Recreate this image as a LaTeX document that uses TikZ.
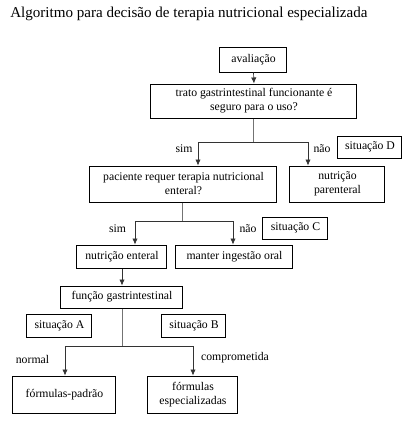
\documentclass[tikz,border=0pt]{standalone}
\usepackage{fontspec}
\setmainfont{Liberation Serif}
\usetikzlibrary{arrows.meta}
\definecolor{linec}{gray}{0.2}
\definecolor{stemc}{gray}{0.45}
\newdimen\pxu \pxu=0.75pt
\begin{document}
\begin{tikzpicture}[x=0.75pt,y=-0.75pt,
  box/.style={draw=black,line width=0.75pt,inner sep=0pt,align=center,font=\fontsize{8.8}{10.5}\selectfont},
  lbl/.style={inner sep=0pt,font=\fontsize{8.8}{10.5}\selectfont},
  arr/.style={draw=linec,line width=0.5pt,-{Latex[length=4.5pt,width=4pt]}},
  ln/.style={draw=linec,line width=0.5pt},
  stem/.style={draw=stemc,line width=0.75pt}]
\useasboundingbox (0,0) rectangle (409,430);
\node[anchor=west,inner sep=0pt,font=\fontsize{11.3}{13}\selectfont] (title) at (10,14) {Algoritmo para decisão de terapia nutricional especializada};

\node[box,minimum width=67\pxu,minimum height=25\pxu] (aval) at (253.5,59.5) {avaliação};
\node[box,minimum width=206\pxu,minimum height=34\pxu] (trato) at (254,101) {trato gastrintestinal funcionante é\\seguro para o uso?};
\node[box,minimum width=64\pxu,minimum height=22\pxu] (sitD) at (370,147) {situação D};
\node[box,minimum width=187\pxu,minimum height=36\pxu] (pac) at (183.5,184) {paciente requer terapia nutricional\\enteral?};
\node[box,minimum width=95\pxu,minimum height=36\pxu] (parent) at (337.5,184) {nutrição\\parenteral};
\node[box,minimum width=65\pxu,minimum height=22\pxu] (sitC) at (295.5,228) {situação C};
\node[box,minimum width=90\pxu,minimum height=23\pxu] (nutent) at (122,256.5) {nutrição enteral};
\node[box,minimum width=117\pxu,minimum height=23\pxu] (manter) at (234.5,256.5) {manter ingestão oral};
\node[box,minimum width=122\pxu,minimum height=22\pxu] (func) at (122,297) {função gastrintestinal};
\node[box,minimum width=65\pxu,minimum height=23\pxu] (sitA) at (59.5,325.5) {situação A};
\node[box,minimum width=64\pxu,minimum height=23\pxu] (sitB) at (194,325.5) {situação B};
\node[box,minimum width=103\pxu,minimum height=37\pxu] (padrao) at (64.5,394.5) {fórmulas-padrão};
\node[box,minimum width=90\pxu,minimum height=37\pxu] (espec) at (193,394.5) {fórmulas\\especializadas};

\node[lbl] (l1) at (184,149) {sim};
\node[lbl] (l2) at (322,149) {não};
\node[lbl] (l3) at (117.5,229) {sim};
\node[lbl] (l4) at (248,229) {não};
\node[lbl] (l5) at (32.5,359) {normal};
\node[lbl] (l6) at (235,358) {comprometida};

\coordinate (j1) at (254,142);
\coordinate (j1l) at (198,142);
\coordinate (j1r) at (308,142);
\coordinate (j2) at (183,221);
\coordinate (j2l) at (135,221);
\coordinate (j2r) at (233,221);
\coordinate (j3) at (122.5,346);
\coordinate (j3l) at (65,346);
\coordinate (j3r) at (193,346);

\draw[arr] (aval.south) -- (trato.north);
\draw[stem] (trato.south) -- (j1);
\draw[ln] (j1l) -- (j1r);
\draw[arr] (j1l) -- (j1l |- pac.north);
\draw[arr] (j1r) -- (j1r |- parent.north);

\draw[stem] (pac.south -| j2) -- (j2);
\draw[ln] (j2l) -- (j2r);
\draw[arr] (j2l) -- (j2l |- nutent.north);
\draw[arr] (j2r) -- (j2r |- manter.north);

\draw[arr] (nutent.south) -- (func.north);
\draw[stem] (func.south -| j3) -- (j3);
\draw[ln] (j3l) -- (j3r);
\draw[arr] (j3l) -- (j3l |- padrao.north);
\draw[arr] (j3r) -- (j3r |- espec.north);
\end{tikzpicture}
\end{document}
